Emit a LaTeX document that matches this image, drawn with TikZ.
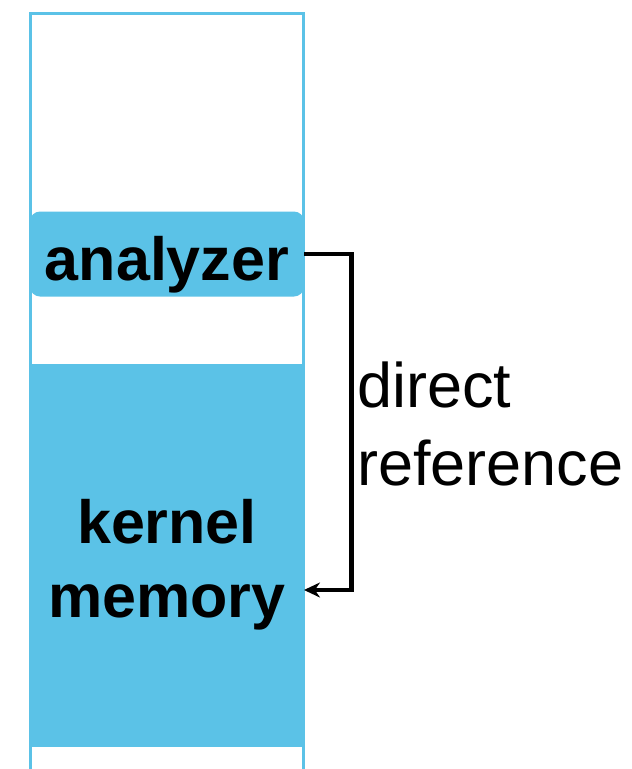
\documentclass[tikz,border=0pt]{standalone}
\usepackage{fontspec}
\setmainfont{Liberation Sans}
\usepackage{tikz}
\usetikzlibrary{positioning}
\usetikzlibrary{arrows.meta}
\definecolor{memblue}{HTML}{5BC2E7}

\begin{document}
\begin{tikzpicture}[x=1pt,y=-1pt,
    frame/.style={draw=memblue,line width=2.7pt},
    block/.style={rectangle,fill=memblue,inner sep=0pt,minimum width=274pt},
    boldtxt/.style={font=\fontsize{61}{74}\selectfont\bfseries},
    lbltxt/.style={font=\fontsize{63}{78}\selectfont},
    ref/.style={line width=4.5pt,-{Stealth[length=16pt,width=15pt]}}]
   \useasboundingbox (0,0) rectangle (632,769);
   \draw[frame] (30.7,775) -- (30.7,13.7) -- (303.5,13.7) -- (303.5,775);

   \node[block,rounded corners=10pt,minimum height=85pt,boldtxt,
         text height=52pt,text depth=0pt] (analyzer) at (167,254) {analyzer};
   \node[block,minimum height=383pt] (kernel) at (167,555.5) {};
   \node[boldtxt,align=center,inner sep=0pt] (kernel_txt) at (167,564.5) {kernel\\memory};

   \coordinate (tip) at (304,590);
   \draw[ref] (analyzer.east) -- ++(47.5,0) coordinate (bend) |- (tip);
   \node[lbltxt,align=left,anchor=north west,inner sep=0pt] (ref_txt) at (357,362) {direct\\reference};
\end{tikzpicture}
\end{document}
